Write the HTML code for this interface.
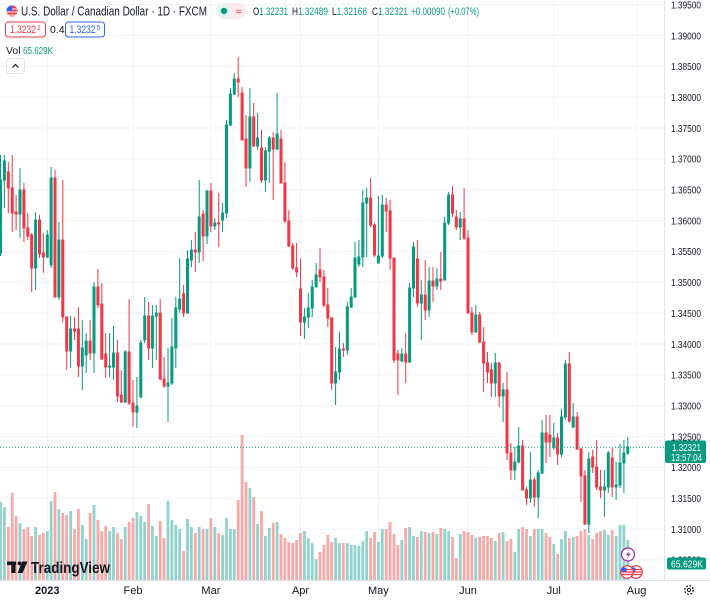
<!DOCTYPE html>
<html><head><meta charset="utf-8"><style>
html,body{margin:0;padding:0;background:#fff;}
body{width:710px;height:600px;overflow:hidden;}
svg{display:block;font-family:"Liberation Sans",sans-serif;}
</style></head><body>
<svg width="710" height="600" viewBox="0 0 710 600" xmlns="http://www.w3.org/2000/svg">
<rect width="710" height="600" fill="#fff"/>
<!-- grid -->
<g stroke="#f0f3fa" stroke-width="1">
<path d="M0 4.6H664M0 35.5H664M0 66.3H664M0 97.2H664M0 128H664M0 158.9H664M0 189.7H664M0 220.6H664M0 251.4H664M0 282.3H664M0 313.1H664M0 344H664M0 374.8H664M0 405.7H664M0 436.5H664M0 467.4H664M0 498.2H664M0 529.1H664M0 559.9H664"/>
<path d="M47.3 0V580M133 0V580M210.9 0V580M300.5 0V580M378.4 0V580M468 0V580M553.8 0V580M636.6 0V580"/>
</g>
<!-- volume -->
<path fill="#92d2cc" d="M-0.9 502h2.8V580h-2.8zM3 507h2.8V580h-2.8zM18.6 523h2.8V580h-2.8zM34.2 527h2.8V580h-2.8zM45.9 531h2.8V580h-2.8zM49.7 501h2.8V580h-2.8zM57.5 509h2.8V580h-2.8zM69.2 511h2.8V580h-2.8zM80.9 525h2.8V580h-2.8zM84.8 539h2.8V580h-2.8zM92.6 505h2.8V580h-2.8zM108.2 531h2.8V580h-2.8zM112.1 527h2.8V580h-2.8zM123.8 527h2.8V580h-2.8zM135.5 512h2.8V580h-2.8zM139.4 516h2.8V580h-2.8zM143.3 522h2.8V580h-2.8zM151 526h2.8V580h-2.8zM154.9 536h2.8V580h-2.8zM166.6 501h2.8V580h-2.8zM170.5 520h2.8V580h-2.8zM174.4 525h2.8V580h-2.8zM178.3 529h2.8V580h-2.8zM186.1 519h2.8V580h-2.8zM190 527h2.8V580h-2.8zM197.8 527h2.8V580h-2.8zM205.6 529h2.8V580h-2.8zM213.4 527h2.8V580h-2.8zM221.2 535h2.8V580h-2.8zM225.1 518h2.8V580h-2.8zM229 529h2.8V580h-2.8zM232.9 529h2.8V580h-2.8zM248.5 488h2.8V580h-2.8zM256.2 524h2.8V580h-2.8zM264 536h2.8V580h-2.8zM267.9 528h2.8V580h-2.8zM275.7 522h2.8V580h-2.8zM303 531h2.8V580h-2.8zM306.9 538h2.8V580h-2.8zM310.8 543h2.8V580h-2.8zM314.7 559h2.8V580h-2.8zM334.2 538h2.8V580h-2.8zM338.1 543h2.8V580h-2.8zM345.9 543h2.8V580h-2.8zM349.8 545h2.8V580h-2.8zM353.6 545h2.8V580h-2.8zM357.5 546h2.8V580h-2.8zM361.4 541h2.8V580h-2.8zM365.3 531h2.8V580h-2.8zM377 542h2.8V580h-2.8zM380.9 529h2.8V580h-2.8zM400.4 540h2.8V580h-2.8zM408.2 527h2.8V580h-2.8zM412.1 536h2.8V580h-2.8zM419.9 531h2.8V580h-2.8zM427.7 533h2.8V580h-2.8zM435.5 534h2.8V580h-2.8zM443.3 529h2.8V580h-2.8zM447.2 531h2.8V580h-2.8zM458.8 534h2.8V580h-2.8zM474.4 538h2.8V580h-2.8zM493.9 541h2.8V580h-2.8zM501.7 532h2.8V580h-2.8zM513.4 552h2.8V580h-2.8zM517.3 529h2.8V580h-2.8zM529 536h2.8V580h-2.8zM536.8 529h2.8V580h-2.8zM540.7 529h2.8V580h-2.8zM552.4 544h2.8V580h-2.8zM560.1 539h2.8V580h-2.8zM564 531h2.8V580h-2.8zM571.8 537h2.8V580h-2.8zM587.4 535h2.8V580h-2.8zM603 530h2.8V580h-2.8zM606.9 535h2.8V580h-2.8zM614.7 536h2.8V580h-2.8zM618.6 525h2.8V580h-2.8zM622.5 525h2.8V580h-2.8zM626.4 540h2.8V580h-2.8z"/>
<path fill="#f7a9a7" d="M6.9 527h2.8V580h-2.8zM10.8 493h2.8V580h-2.8zM14.7 516h2.8V580h-2.8zM22.5 529h2.8V580h-2.8zM26.4 527h2.8V580h-2.8zM30.3 536h2.8V580h-2.8zM38.1 535h2.8V580h-2.8zM42 533h2.8V580h-2.8zM53.6 492h2.8V580h-2.8zM61.4 513h2.8V580h-2.8zM65.3 515h2.8V580h-2.8zM73.1 529h2.8V580h-2.8zM77 509h2.8V580h-2.8zM88.7 513h2.8V580h-2.8zM96.5 520h2.8V580h-2.8zM100.4 531h2.8V580h-2.8zM104.3 526h2.8V580h-2.8zM116 533h2.8V580h-2.8zM119.9 539h2.8V580h-2.8zM127.7 522h2.8V580h-2.8zM131.6 518h2.8V580h-2.8zM147.2 504h2.8V580h-2.8zM158.8 521h2.8V580h-2.8zM162.7 538h2.8V580h-2.8zM182.2 551h2.8V580h-2.8zM193.9 533h2.8V580h-2.8zM201.7 529h2.8V580h-2.8zM209.5 518h2.8V580h-2.8zM217.3 533h2.8V580h-2.8zM236.8 500h2.8V580h-2.8zM240.7 435h2.8V580h-2.8zM244.6 482h2.8V580h-2.8zM252.3 497h2.8V580h-2.8zM260.1 511h2.8V580h-2.8zM271.8 523h2.8V580h-2.8zM279.6 534h2.8V580h-2.8zM283.5 538h2.8V580h-2.8zM287.4 542h2.8V580h-2.8zM291.3 543h2.8V580h-2.8zM295.2 540h2.8V580h-2.8zM299.1 533h2.8V580h-2.8zM318.6 552h2.8V580h-2.8zM322.5 545h2.8V580h-2.8zM326.4 535h2.8V580h-2.8zM330.3 542h2.8V580h-2.8zM342 543h2.8V580h-2.8zM369.2 538h2.8V580h-2.8zM373.1 532h2.8V580h-2.8zM384.8 529h2.8V580h-2.8zM388.7 522h2.8V580h-2.8zM392.6 534h2.8V580h-2.8zM396.5 545h2.8V580h-2.8zM404.3 528h2.8V580h-2.8zM416 537h2.8V580h-2.8zM423.8 532h2.8V580h-2.8zM431.6 532h2.8V580h-2.8zM439.4 528h2.8V580h-2.8zM451.1 537h2.8V580h-2.8zM454.9 558h2.8V580h-2.8zM462.7 531h2.8V580h-2.8zM466.6 532h2.8V580h-2.8zM470.5 535h2.8V580h-2.8zM478.3 537h2.8V580h-2.8zM482.2 536h2.8V580h-2.8zM486.1 536h2.8V580h-2.8zM490 538h2.8V580h-2.8zM497.8 533h2.8V580h-2.8zM505.6 541h2.8V580h-2.8zM509.5 539h2.8V580h-2.8zM521.2 527h2.8V580h-2.8zM525.1 529h2.8V580h-2.8zM532.9 529h2.8V580h-2.8zM544.6 533h2.8V580h-2.8zM548.5 537h2.8V580h-2.8zM556.2 554h2.8V580h-2.8zM567.9 538h2.8V580h-2.8zM575.7 536h2.8V580h-2.8zM579.6 531h2.8V580h-2.8zM583.5 529h2.8V580h-2.8zM591.3 539h2.8V580h-2.8zM595.2 533h2.8V580h-2.8zM599.1 531h2.8V580h-2.8zM610.8 530h2.8V580h-2.8z"/>
<!-- candles -->
<path fill="#089981" stroke="#089981" stroke-width="1" d="M0.5 155V256M-0.5 180h2V253h-2zM4.4 155V208M3.4 161h2V180h-2zM20 168V238M19 190h2V214h-2zM35.6 212V290M34.6 220h2V268h-2zM47.3 230V258M46.3 235h2V257h-2zM51.1 167V268M50.1 178h2V265h-2zM58.9 222V300M57.9 240h2V297h-2zM70.6 316V368M69.6 329h2V351h-2zM82.3 320V390M81.3 348h2V366h-2zM86.2 333V373M85.2 341h2V355h-2zM94 282V373M93 287h2V353h-2zM109.6 333V377M108.6 366h2V367h-2zM113.5 326V380M112.5 353h2V367h-2zM125.2 350V403M124.2 352h2V402h-2zM136.9 377V428M135.9 406h2V412h-2zM140.8 340V398M139.8 343h2V397h-2zM144.7 297V343M143.7 316h2V340h-2zM152.4 305V368M151.4 316h2V348h-2zM156.3 305V360M155.3 313h2V316h-2zM168 348V422M167 383h2V386h-2zM171.9 318V385M170.9 347h2V383h-2zM175.8 297V368M174.8 308h2V348h-2zM179.7 258V313M178.7 299h2V309h-2zM187.5 250V313M186.5 259h2V313h-2zM191.4 240V267M190.4 250h2V260h-2zM199.2 180V263M198.2 217h2V252h-2zM207 190V244M206 191h2V236h-2zM214.8 218V230M213.8 223h2V226h-2zM222.6 203V232M221.6 213h2V220h-2zM226.5 120V218M225.5 125h2V213h-2zM230.4 88V126M229.4 94h2V125h-2zM234.3 73V95M233.3 79h2V94h-2zM249.9 88V182M248.9 117h2V168h-2zM257.6 113V150M256.6 138h2V146h-2zM265.4 147V192M264.4 151h2V180h-2zM269.3 136V183M268.3 138h2V151h-2zM277.1 93V150M276.1 134h2V149h-2zM304.4 308V339M303.4 317h2V322h-2zM308.3 293V328M307.3 308h2V317h-2zM312.2 280V317M311.2 287h2V308h-2zM316.1 263V287M315.1 275h2V287h-2zM335.6 347V405M334.6 372h2V383h-2zM339.5 332V380M338.5 349h2V372h-2zM347.3 302V355M346.3 307h2V350h-2zM351.2 288V308M350.2 297h2V307h-2zM355 242V298M354 258h2V297h-2zM358.9 240V267M357.9 257h2V264h-2zM362.8 190V267M361.8 203h2V257h-2zM366.7 188V257M365.7 198h2V203h-2zM378.4 196V263M377.4 256h2V263h-2zM382.3 195V258M381.3 205h2V256h-2zM401.8 348V362M400.8 354h2V361h-2zM409.6 283V363M408.6 288h2V362h-2zM413.5 242V297M412.5 247h2V288h-2zM421.3 280V340M420.3 295h2V303h-2zM429.1 267V317M428.1 281h2V310h-2zM436.9 268V290M435.9 279h2V286h-2zM444.7 217V280M443.7 223h2V280h-2zM448.6 192V225M447.6 195h2V223h-2zM460.2 212V240M459.2 219h2V227h-2zM475.8 305V333M474.8 315h2V332h-2zM495.3 353V397M494.3 363h2V383h-2zM503.1 383V422M502.1 390h2V396h-2zM514.8 447V480M513.8 462h2V470h-2zM518.7 427V463M517.7 446h2V462h-2zM530.4 452V503M529.4 480h2V498h-2zM538.2 470V518M537.2 473h2V497h-2zM542.1 420V474M541.1 433h2V473h-2zM553.8 423V450M552.8 438h2V447h-2zM561.5 409V457M560.5 417h2V454h-2zM565.4 360V420M564.4 364h2V417h-2zM573.2 403V428M572.2 417h2V427h-2zM588.8 452V533M587.8 459h2V524h-2zM604.4 470V517M603.4 487h2V490h-2zM608.3 451V493M607.3 453h2V487h-2zM616.1 462V500M615.1 485h2V487h-2zM620 444V488M619 463h2V485h-2zM623.9 440V493M622.9 453h2V463h-2zM627.8 437V455M626.8 447h2V453h-2z"/>
<path fill="#f23645" stroke="#f23645" stroke-width="1" d="M8.3 162V213M7.3 172h2V188h-2zM12.2 155V232M11.2 188h2V213h-2zM16.1 195V230M15.1 212h2V214h-2zM23.9 183V242M22.9 190h2V228h-2zM27.8 213V240M26.8 228h2V236h-2zM31.7 233V292M30.7 235h2V268h-2zM39.5 215V258M38.5 220h2V254h-2zM43.4 233V273M42.4 253h2V257h-2zM55 170V297M54 178h2V297h-2zM62.8 180V322M61.8 240h2V317h-2zM66.7 317V370M65.7 317h2V351h-2zM74.5 317V340M73.5 329h2V331h-2zM78.4 307V377M77.4 329h2V366h-2zM90.1 320V360M89.1 341h2V353h-2zM97.9 269V308M96.9 287h2V305h-2zM101.8 283V360M100.8 304h2V359h-2zM105.7 333V378M104.7 354h2V367h-2zM117.4 340V402M116.4 353h2V396h-2zM121.3 370V403M120.3 395h2V402h-2zM129.1 299V405M128.1 352h2V403h-2zM133 380V427M132 403h2V412h-2zM148.6 302V360M147.6 316h2V348h-2zM160.2 299V380M159.2 313h2V379h-2zM164.1 357V388M163.1 379h2V386h-2zM183.6 285V317M182.6 294h2V313h-2zM195.3 232V272M194.3 250h2V252h-2zM203.1 210V261M202.1 214h2V236h-2zM210.9 183V232M209.9 191h2V226h-2zM218.7 193V247M217.7 223h2V224h-2zM238.2 57V97M237.2 79h2V82h-2zM242.1 87V140M241.1 93h2V140h-2zM246 115V187M245 139h2V168h-2zM253.7 103V147M252.7 117h2V146h-2zM261.5 130V183M260.5 148h2V180h-2zM273.2 132V200M272.2 138h2V149h-2zM281 130V183M280 139h2V183h-2zM284.9 162V223M283.9 183h2V221h-2zM288.8 210V247M287.8 221h2V246h-2zM292.7 243V270M291.7 246h2V268h-2zM296.6 243V277M295.6 268h2V272h-2zM300.5 259V336M299.5 289h2V322h-2zM320 248V282M319 270h2V277h-2zM323.9 270V307M322.9 277h2V305h-2zM327.8 288V327M326.8 305h2V318h-2zM331.7 317V390M330.7 318h2V383h-2zM343.4 343V357M342.4 349h2V350h-2zM370.6 178V227M369.6 198h2V225h-2zM374.5 223V257M373.5 225h2V255h-2zM386.2 198V232M385.2 205h2V211h-2zM390.1 200V270M389.1 211h2V258h-2zM394 258V363M393 258h2V360h-2zM397.9 350V395M396.9 354h2V360h-2zM405.7 333V383M404.7 354h2V362h-2zM417.4 240V307M416.4 259h2V303h-2zM425.2 260V320M424.2 295h2V310h-2zM433 267V302M432 281h2V286h-2zM440.8 252V290M439.8 279h2V281h-2zM452.5 186V217M451.5 195h2V213h-2zM456.3 210V230M455.3 217h2V227h-2zM464.1 188V240M463.1 219h2V238h-2zM468 230V313M467 238h2V313h-2zM471.9 307V335M470.9 313h2V332h-2zM479.7 312V343M478.7 315h2V342h-2zM483.6 327V392M482.6 342h2V363h-2zM487.5 352V383M486.5 363h2V372h-2zM491.4 363V397M490.4 370h2V383h-2zM499.2 362V407M498.2 363h2V396h-2zM507 372V460M506 390h2V453h-2zM510.9 443V480M509.9 453h2V470h-2zM522.6 440V490M521.6 446h2V490h-2zM526.5 487V505M525.5 490h2V498h-2zM534.3 477V507M533.3 480h2V497h-2zM546 415V463M545 433h2V442h-2zM549.9 415V457M548.9 435h2V442h-2zM557.6 433V465M556.6 438h2V454h-2zM569.3 352V423M568.3 364h2V421h-2zM577.1 412V450M576.1 417h2V449h-2zM581 448V502M580 449h2V476h-2zM584.9 470V525M583.9 476h2V524h-2zM592.7 450V473M591.7 457h2V467h-2zM596.6 440V490M595.6 467h2V487h-2zM600.5 470V498M599.5 487h2V490h-2zM612.2 448V497M611.2 458h2V487h-2z"/>
<!-- last price line -->
<line x1="0" y1="447.2" x2="664" y2="447.2" stroke="#089981" stroke-width="1" stroke-dasharray="1 2"/>
<!-- axes borders -->
<line x1="664.5" y1="0" x2="664.5" y2="580" stroke="#e0e3eb"/>
<line x1="0" y1="580.5" x2="710" y2="580.5" stroke="#e0e3eb"/>
<!-- price labels -->
<g font-size="10.5" fill="#131722">
<text x="671" y="8.4" textLength="30" lengthAdjust="spacingAndGlyphs">1.39500</text>
<text x="671" y="39.3" textLength="30" lengthAdjust="spacingAndGlyphs">1.39000</text>
<text x="671" y="70.1" textLength="30" lengthAdjust="spacingAndGlyphs">1.38500</text>
<text x="671" y="101" textLength="30" lengthAdjust="spacingAndGlyphs">1.38000</text>
<text x="671" y="131.8" textLength="30" lengthAdjust="spacingAndGlyphs">1.37500</text>
<text x="671" y="162.7" textLength="30" lengthAdjust="spacingAndGlyphs">1.37000</text>
<text x="671" y="193.5" textLength="30" lengthAdjust="spacingAndGlyphs">1.36500</text>
<text x="671" y="224.4" textLength="30" lengthAdjust="spacingAndGlyphs">1.36000</text>
<text x="671" y="255.2" textLength="30" lengthAdjust="spacingAndGlyphs">1.35500</text>
<text x="671" y="286.1" textLength="30" lengthAdjust="spacingAndGlyphs">1.35000</text>
<text x="671" y="316.9" textLength="30" lengthAdjust="spacingAndGlyphs">1.34500</text>
<text x="671" y="347.8" textLength="30" lengthAdjust="spacingAndGlyphs">1.34000</text>
<text x="671" y="378.6" textLength="30" lengthAdjust="spacingAndGlyphs">1.33500</text>
<text x="671" y="409.5" textLength="30" lengthAdjust="spacingAndGlyphs">1.33000</text>
<text x="671" y="440.3" textLength="30" lengthAdjust="spacingAndGlyphs">1.32500</text>
<text x="671" y="471.2" textLength="30" lengthAdjust="spacingAndGlyphs">1.32000</text>
<text x="671" y="502" textLength="30" lengthAdjust="spacingAndGlyphs">1.31500</text>
<text x="671" y="532.9" textLength="30" lengthAdjust="spacingAndGlyphs">1.31000</text>
<text x="671" y="563.7" textLength="30" lengthAdjust="spacingAndGlyphs">1.30500</text>
</g>
<!-- last price box -->
<rect x="665" y="440.5" width="41" height="22.5" rx="2" fill="#089981"/>
<text x="672" y="451" font-size="10.5" fill="#fff" textLength="29" lengthAdjust="spacingAndGlyphs">1.32321</text>
<text x="671" y="460.8" font-size="10.5" fill="#fff" textLength="31" lengthAdjust="spacingAndGlyphs">13:57:04</text>
<!-- volume box -->
<rect x="667" y="557.5" width="39" height="12" rx="2" fill="#089981"/>
<text x="671" y="567.3" font-size="10.5" fill="#fff" textLength="32" lengthAdjust="spacingAndGlyphs">65.629K</text>
<!-- time labels -->
<g font-size="11" fill="#131722" text-anchor="middle">
<text x="47.3" y="594" font-weight="bold">2023</text>
<text x="133" y="594">Feb</text>
<text x="210.9" y="594">Mar</text>
<text x="300.5" y="594">Apr</text>
<text x="378.4" y="594">May</text>
<text x="468" y="594">Jun</text>
<text x="553.8" y="594">Jul</text>
<text x="636.6" y="594">Aug</text>
</g>
<!-- gear -->
<circle cx="689" cy="590" r="4.3" fill="none" stroke="#131722" stroke-width="1.2" stroke-dasharray="2 1.4"/>
<circle cx="689" cy="590" r="1.6" fill="none" stroke="#131722" stroke-width="1"/>
<!-- icons near last bar -->
<circle cx="628" cy="554.5" r="6.5" fill="#fff" stroke="#9c27b0" stroke-width="1.2"/>
<path d="M629.5 550.5L625.8 555.2H628.3L627 558.6L630.7 553.8H628.2Z" fill="#9c27b0"/>
<circle cx="636" cy="572" r="6.3" fill="#fff" stroke="#f23645" stroke-width="1.2"/>
<path d="M631 569.5h10M630.5 572h11M631 574.5h10" stroke="#f23645" stroke-width="1.2"/>
<rect x="630.5" y="567.5" width="5" height="4" fill="#2962ff"/>
<circle cx="627" cy="572" r="6.3" fill="#fff" stroke="#f23645" stroke-width="1.2"/>
<path d="M622 569.5h10M621.5 572h11M622 574.5h10" stroke="#f23645" stroke-width="1.2"/>
<rect x="621.5" y="567.5" width="5" height="4" fill="#2962ff"/>
<!-- TradingView logo -->
<g fill="#131722">
<rect x="7" y="561.5" width="9" height="3.6"/>
<rect x="11.3" y="561.5" width="4.2" height="11.5"/>
<circle cx="19.4" cy="563.4" r="1.9"/>
<path d="M22 561.5h5.5l-5 11.5h-4.8z"/>
<text x="31" y="573" font-size="15.5" font-weight="bold" textLength="79" lengthAdjust="spacingAndGlyphs">TradingView</text>
</g>
<!-- header -->
<circle cx="12" cy="11" r="5.5" fill="#f23645"/>
<path d="M7 9h10M6.5 12h11M7.5 15h9" stroke="#fff" stroke-width="1"/>
<path d="M12 5.5A5.5 5.5 0 0 0 6.5 11H12Z" fill="#2962ff"/>
<text x="21" y="15.5" font-size="12.5" fill="#131722" textLength="186" lengthAdjust="spacingAndGlyphs">U.S. Dollar / Canadian Dollar · 1D · FXCM</text>
<rect x="216" y="3" width="30" height="16" rx="8" fill="#fde8ea"/>
<rect x="216" y="3" width="16" height="16" rx="8" fill="#e6f4f1"/>
<circle cx="224" cy="11" r="3.2" fill="#089981"/>
<text x="238.5" y="15" font-size="11" fill="#f23645" text-anchor="middle">≈</text>
<g font-size="11">
<text x="253" y="15" fill="#131722" textLength="35" lengthAdjust="spacingAndGlyphs">O<tspan fill="#089981">1.32231</tspan></text>
<text x="292" y="15" fill="#131722" textLength="36" lengthAdjust="spacingAndGlyphs">H<tspan fill="#089981">1.32489</tspan></text>
<text x="332" y="15" fill="#131722" textLength="35" lengthAdjust="spacingAndGlyphs">L<tspan fill="#089981">1.32166</tspan></text>
<text x="372" y="15" fill="#131722" textLength="36" lengthAdjust="spacingAndGlyphs">C<tspan fill="#089981">1.32321</tspan></text>
<text x="411" y="15" fill="#089981" textLength="34" lengthAdjust="spacingAndGlyphs">+0.00090</text>
<text x="448" y="15" fill="#089981" textLength="31" lengthAdjust="spacingAndGlyphs">(+0.07%)</text>
</g>
<rect x="5.5" y="22" width="40" height="15" rx="3" fill="#fff" stroke="#f23645" stroke-width="1"/>
<text x="10" y="33" font-size="11" fill="#f23645" textLength="26" lengthAdjust="spacingAndGlyphs">1.3232</text>
<text x="37" y="30" font-size="7" fill="#f23645">1</text>
<text x="50" y="33" font-size="10.5" fill="#131722">0.4</text>
<rect x="65.5" y="22" width="39" height="15" rx="3" fill="#fff" stroke="#2962ff" stroke-width="1"/>
<text x="69.5" y="33" font-size="11" fill="#2962ff" textLength="26" lengthAdjust="spacingAndGlyphs">1.3232</text>
<text x="96.5" y="30" font-size="7" fill="#2962ff">5</text>
<text x="6" y="54" font-size="10.5" fill="#131722">Vol</text>
<text x="23" y="54" font-size="10.5" fill="#089981" textLength="30" lengthAdjust="spacingAndGlyphs">65.629K</text>
<rect x="6.5" y="58.5" width="18" height="15" rx="3" fill="#fff" stroke="#e0e3eb" stroke-width="1"/>
<path d="M12.5 67.5L15.5 64.5L18.5 67.5" fill="none" stroke="#131722" stroke-width="1.2"/>
</svg>
</body></html>
